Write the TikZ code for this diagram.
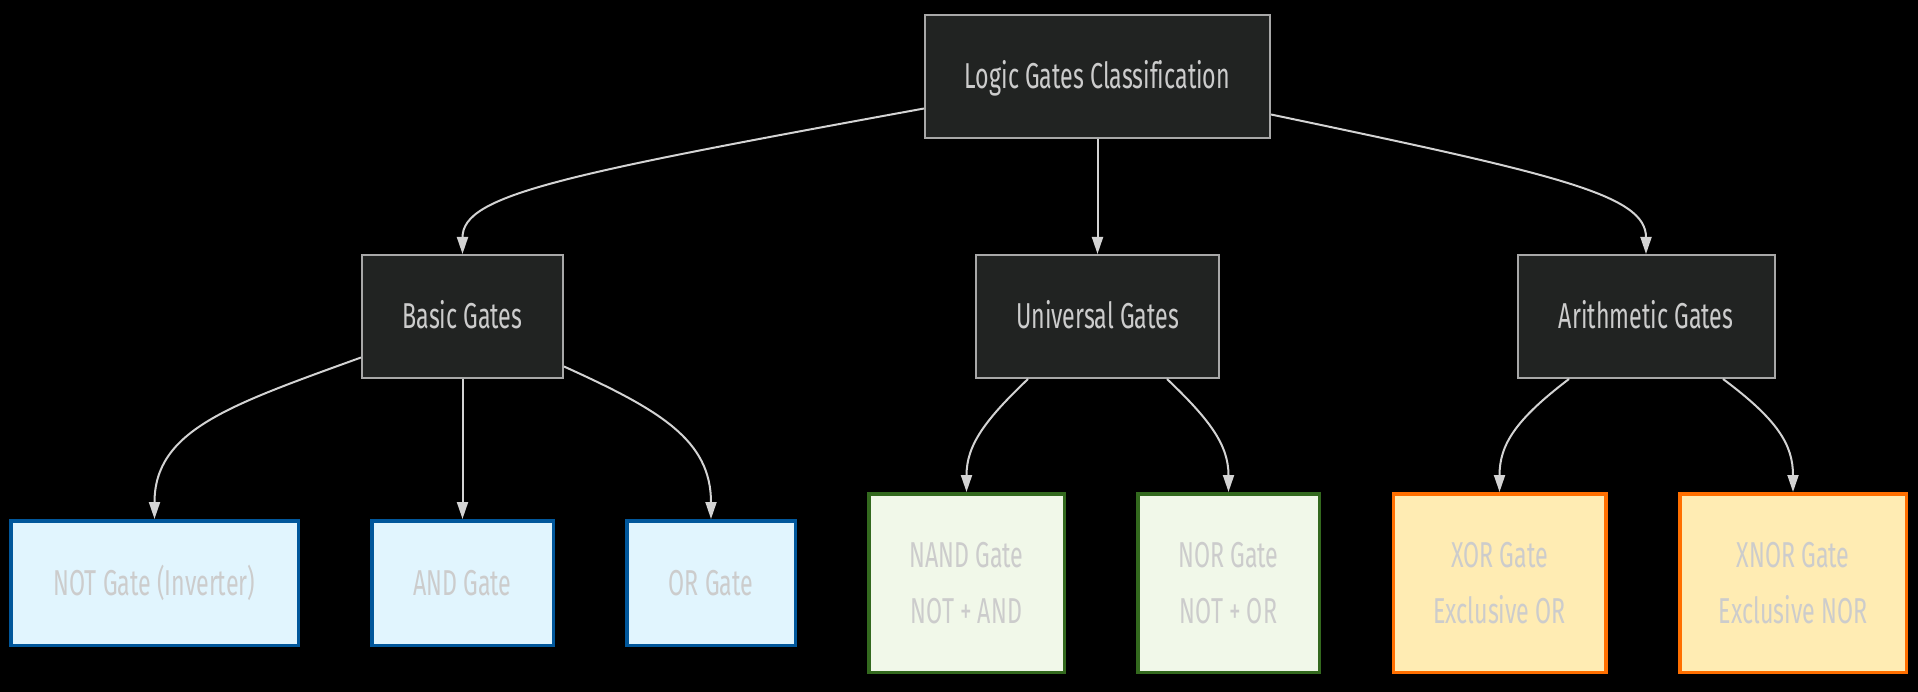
\documentclass[tikz,border=0pt]{standalone}
\usepackage{fontspec}
\setmainfont{Fira Sans}[FakeStretch=0.645,Ligatures=NoCommon]
\usetikzlibrary{arrows.meta}
\definecolor{bgc}{HTML}{000000}
\definecolor{darkfill}{HTML}{212322}
\definecolor{darkline}{HTML}{A8A8A8}
\definecolor{txt}{HTML}{CCCCCC}
\definecolor{edgec}{HTML}{D3D3D3}
\definecolor{bluefill}{HTML}{E1F5FE}
\definecolor{blueline}{HTML}{01579B}
\definecolor{greenfill}{HTML}{F1F8E9}
\definecolor{greenline}{HTML}{33691E}
\definecolor{orangefill}{HTML}{FFECB3}
\definecolor{orangeline}{HTML}{FF6F00}
\tikzset{
  base/.style={rectangle, inner sep=0pt, text=txt, align=center,
    font=\fontsize{36}{56}\selectfont},
  oneline/.style={text height=30pt, text depth=5.2pt},
  darkbox/.style={base, oneline, fill=darkfill, draw=darkline, line width=2pt},
  bluebox/.style={base, oneline, fill=bluefill, draw=blueline, line width=3.5pt},
  greenbox/.style={base, fill=greenfill, draw=greenline, line width=3.5pt},
  orangebox/.style={base, fill=orangefill, draw=orangeline, line width=3.5pt},
  conn/.style={draw=edgec, line width=2pt, -{Triangle[length=17pt,width=11pt,fill=edgec]}}
}
\begin{document}
\begin{tikzpicture}[x=1pt,y=-1pt]
\fill[bgc] (0,0) rectangle (1918,692);
\useasboundingbox (0,0) rectangle (1918,692);

\node[darkbox, minimum width=345pt, minimum height=123pt] (root) at (1097.5,76.5) {Logic Gates Classification};
\node[darkbox, minimum width=201pt, minimum height=123pt] (basic) at (462.5,316.5) {Basic Gates};
\node[darkbox, minimum width=243pt, minimum height=123pt] (univ) at (1097.5,316.5) {Universal Gates};
\node[darkbox, minimum width=257pt, minimum height=123pt] (arith) at (1646,316.5) {Arithmetic Gates};

\node[bluebox, minimum width=287.5pt, minimum height=124.5pt] (not) at (154.5,583) {NOT Gate (Inverter)};
\node[bluebox, minimum width=181.5pt, minimum height=124.5pt] (and) at (462.5,583) {AND Gate};
\node[bluebox, minimum width=168.5pt, minimum height=124.5pt] (or) at (711,583) {OR Gate};

\node[greenbox, minimum width=195.5pt, minimum height=178.5pt] (nand) at (966.5,583) {NAND Gate\\NOT + AND};
\node[greenbox, minimum width=181.5pt, minimum height=178.5pt] (nor) at (1228.5,583) {NOR Gate\\NOT + OR};

\node[orangebox, minimum width=212.5pt, minimum height=178.5pt] (xor) at (1499.5,583) {XOR Gate\\Exclusive OR};
\node[orangebox, minimum width=226.5pt, minimum height=178.5pt] (xnor) at (1793,583) {XNOR Gate\\Exclusive NOR};

\draw[conn] ([yshift=-32pt]root.west) .. controls (560,175) and (462.5,195) .. (basic.north);
\draw[conn] (root.south) -- (univ.north);
\draw[conn] ([yshift=-38pt]root.east) .. controls (1560,175) and (1646,195) .. (arith.north);

\draw[conn] ([yshift=-41pt]basic.west) .. controls (230,405) and (154.5,430) .. (not.north);
\draw[conn] (basic.south) -- (and.north);
\draw[conn] ([yshift=-50pt]basic.east) .. controls (660,410) and (711,440) .. (or.north);

\draw[conn] ([xshift=-69.5pt]univ.south) .. controls (985,420) and (966.5,445) .. (nand.north);
\draw[conn] ([xshift=69.5pt]univ.south) .. controls (1210,420) and (1228.5,445) .. (nor.north);

\draw[conn] ([xshift=-77pt]arith.south) .. controls (1515,420) and (1499.5,445) .. (xor.north);
\draw[conn] ([xshift=77pt]arith.south) .. controls (1778,420) and (1793,445) .. (xnor.north);
\end{tikzpicture}
\end{document}
